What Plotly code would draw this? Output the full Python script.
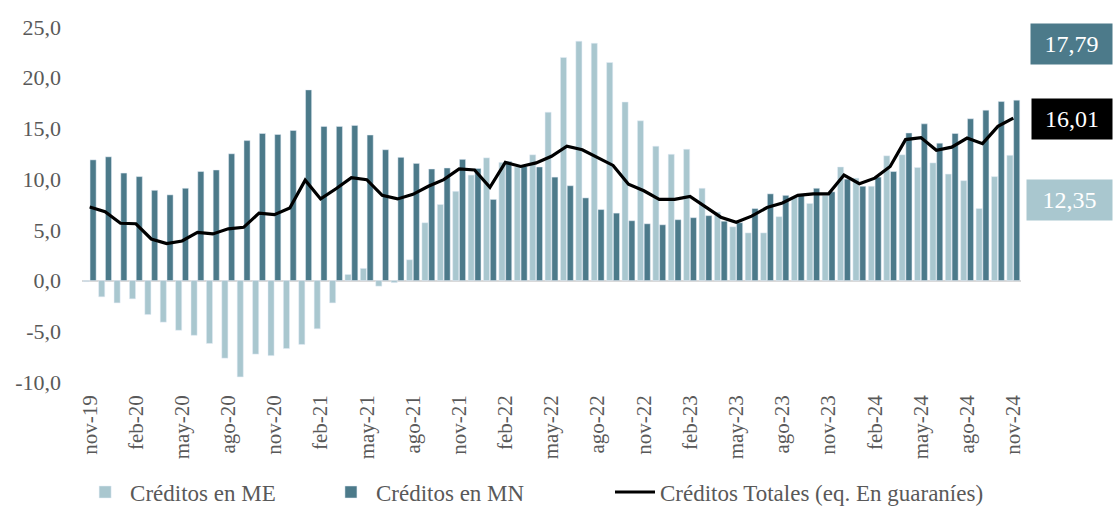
import plotly.graph_objects as go

months = ["nov-19", "dic-19", "ene-20", "feb-20", "mar-20", "abr-20", "may-20", "jun-20", "jul-20",
          "ago-20", "sep-20", "oct-20", "nov-20", "dic-20", "ene-21", "feb-21", "mar-21", "abr-21",
          "may-21", "jun-21", "jul-21", "ago-21", "sep-21", "oct-21", "nov-21", "dic-21", "ene-22",
          "feb-22", "mar-22", "abr-22", "may-22", "jun-22", "jul-22", "ago-22", "sep-22", "oct-22",
          "nov-22", "dic-22", "ene-23", "feb-23", "mar-23", "abr-23", "may-23", "jun-23", "jul-23",
          "ago-23", "sep-23", "oct-23", "nov-23", "dic-23", "ene-24", "feb-24", "mar-24", "abr-24",
          "may-24", "jun-24", "jul-24", "ago-24", "sep-24", "oct-24", "nov-24"]

creditos_me = [-0.1, -1.6, -2.2, -1.8, -3.35, -4.1, -4.9, -5.4, -6.2, -7.65, -9.5, -7.25, -7.4, -6.7,
               -6.3, -4.75, -2.2, 0.6, 1.2, -0.55, -0.2, 2.05, 5.7, 7.5, 8.8, 10.4, 12.1, 11.65, 11.2,
               12.4, 16.6, 22.0, 23.6, 23.4, 21.5, 17.6, 15.75, 13.25, 12.45, 12.95, 9.1, 6.75, 5.3,
               4.7, 4.7, 6.3, 8.25, 7.6, 8.4, 11.2, 10.1, 9.3, 12.3, 12.4, 11.15, 11.6, 10.5, 9.85,
               7.1, 10.25, 12.35]

creditos_mn = [11.9, 12.2, 10.6, 10.25, 8.9, 8.45, 9.1, 10.75, 10.9, 12.5, 13.8, 14.5, 14.4, 14.8,
               18.8, 15.2, 15.2, 15.3, 14.35, 12.9, 12.15, 11.55, 11.0, 11.1, 11.95, 11.05, 8.0, 11.75,
               11.25, 11.2, 10.2, 9.35, 8.15, 7.0, 6.65, 5.9, 5.6, 5.5, 6.0, 6.2, 6.4, 5.85, 5.7, 7.1,
               8.55, 8.4, 8.5, 9.1, 8.75, 10.0, 9.3, 10.2, 10.75, 14.55, 15.45, 13.55, 14.5, 15.95,
               16.8, 17.65, 17.79]

creditos_totales = [7.25, 6.8, 5.65, 5.6, 4.1, 3.65, 3.9, 4.75, 4.6, 5.1, 5.25, 6.65, 6.5, 7.15, 9.9,
                    8.05, 9.05, 10.15, 9.95, 8.4, 8.05, 8.5, 9.3, 9.95, 11.0, 10.9, 9.2, 11.65, 11.25,
                    11.6, 12.25, 13.25, 12.9, 12.1, 11.35, 9.5, 8.85, 8.0, 8.0, 8.3, 7.3, 6.25, 5.75,
                    6.35, 7.2, 7.65, 8.4, 8.55, 8.55, 10.4, 9.55, 10.1, 11.25, 13.9, 14.1, 12.85, 13.15,
                    14.05, 13.5, 15.2, 16.01]

tick_months = months[::3]
y_ticks = [-10, -5, 0, 5, 10, 15, 20, 25]

C_ME = "#a9c7cf"
C_MN = "#4c7a8a"
FONT = "Liberation Serif"
TXT = "#595959"

def fmt(v, d):
    return f"{v:.{d}f}".replace(".", ",")

fig = go.Figure()
fig.add_trace(go.Bar(x=months, y=creditos_me, name="Créditos en ME", marker_color=C_ME,
                     legend="legend"))
fig.add_trace(go.Bar(x=months, y=creditos_mn, name="Créditos en MN", marker_color=C_MN,
                     legend="legend2"))
fig.add_trace(go.Scatter(x=months, y=creditos_totales, name="Créditos Totales (eq. En guaraníes)",
                         mode="lines", line=dict(color="black", width=3.2), legend="legend3"))

ann_font = dict(family=FONT, size=24, color="white")
fig.add_annotation(xref="paper", yref="paper", x=1.098, y=0.952, xanchor="right", yanchor="middle",
                   text=fmt(creditos_mn[-1], 2), showarrow=False, bgcolor=C_MN, width=81, height=40,
                   borderpad=0, font=ann_font)
fig.add_annotation(xref="paper", yref="paper", x=1.098, y=0.741, xanchor="right", yanchor="middle",
                   text=fmt(creditos_totales[-1], 2), showarrow=False, bgcolor="black", width=80,
                   height=40, borderpad=0, font=ann_font)
fig.add_annotation(xref="paper", yref="paper", x=1.098, y=0.513, xanchor="right", yanchor="middle",
                   text=fmt(creditos_me[-1], 2), showarrow=False, bgcolor=C_ME, width=85, height=40,
                   borderpad=0, font=ann_font)

leg_common = dict(orientation="h", xanchor="left", y=-0.31, yanchor="middle",
                  font=dict(family=FONT, size=23, color=TXT), itemwidth=40,
                  bgcolor="rgba(0,0,0,0)")

fig.update_layout(
    width=1113, height=527,
    margin=dict(l=82, r=92, t=27, b=145),
    paper_bgcolor="white", plot_bgcolor="white",
    barmode="group", bargap=0.12, bargroupgap=0.1,
    font=dict(family=FONT, color=TXT, size=22),
    showlegend=True,
    legend=dict(x=-0.002, **leg_common),
    legend2=dict(x=0.2598, **leg_common),
    legend3=dict(x=0.5623, **leg_common),
    xaxis=dict(type="category", tickmode="array", tickvals=tick_months, ticktext=tick_months,
               tickangle=-90, showgrid=False, showline=False, ticks="",
               ticklabelstandoff=8, tickfont=dict(family=FONT, size=21, color=TXT)),
    yaxis=dict(range=[-10, 25], tickmode="array", tickvals=y_ticks,
               ticktext=[fmt(v, 1) for v in y_ticks], showgrid=False, showline=False,
               zeroline=True, zerolinecolor="#d9d9d9", zerolinewidth=2,
               ticklabelstandoff=20, tickfont=dict(family=FONT, size=22, color=TXT)),
)

fig.write_html("out.html", config={"displayModeBar": False},
               post_script="document.body.style.margin='0';")
